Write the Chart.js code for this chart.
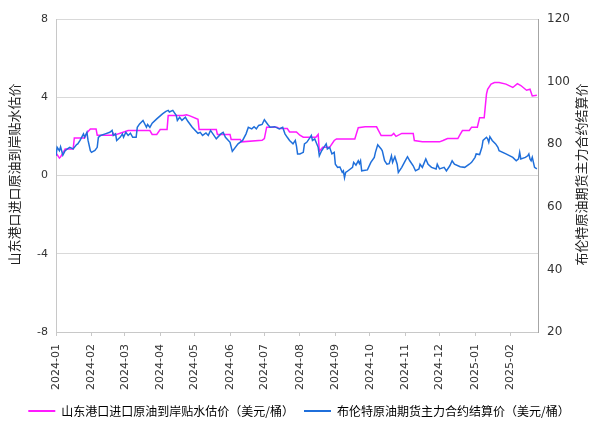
<!DOCTYPE html>
<html>
<head>
<meta charset="utf-8">
<script src="https://cdn.jsdelivr.net/npm/chart.js@4/dist/chart.umd.min.js"></script>
<style>
  html, body { margin: 0; padding: 0; background: #fff; }
  #wrap { width: 598px; height: 435px; }
</style>
</head>
<body>
<div id="wrap"><canvas id="chart"></canvas></div>
<script>
// 月份刻度
const monthLabels = ['2024-01', '2024-02', '2024-03', '2024-04', '2024-05', '2024-06', '2024-07',
    '2024-08', '2024-09', '2024-10', '2024-11', '2024-12', '2025-01', '2025-02'];

// 山东港口进口原油到岸贴水估价（美元/桶）
const premiumDates = ['2024-01-01', '2024-01-04', '2024-01-05', '2024-01-09', '2024-01-16', '2024-01-17',
    '2024-01-26', '2024-01-28', '2024-01-31', '2024-02-05', '2024-02-06', '2024-02-19', '2024-02-20',
    '2024-02-21', '2024-02-28', '2024-03-04', '2024-03-23', '2024-03-25', '2024-03-29', '2024-04-01',
    '2024-04-07', '2024-04-08', '2024-04-21', '2024-04-24', '2024-04-27', '2024-05-04', '2024-05-05',
    '2024-05-20', '2024-05-21', '2024-06-01', '2024-06-02', '2024-06-10', '2024-06-11', '2024-06-29',
    '2024-07-01', '2024-07-03', '2024-07-12', '2024-07-14', '2024-07-21', '2024-07-23', '2024-07-29',
    '2024-08-01', '2024-08-04', '2024-08-15', '2024-08-17', '2024-08-18', '2024-08-21', '2024-08-27',
    '2024-08-31', '2024-09-02', '2024-09-18', '2024-09-21', '2024-09-27', '2024-10-07', '2024-10-11',
    '2024-10-20', '2024-10-22', '2024-10-24', '2024-10-29', '2024-11-08', '2024-11-09', '2024-11-16',
    '2024-12-01', '2024-12-04', '2024-12-08', '2024-12-17', '2024-12-19', '2024-12-21', '2024-12-27',
    '2024-12-29', '2025-01-03', '2025-01-05', '2025-01-09', '2025-01-11', '2025-01-12', '2025-01-15',
    '2025-01-18', '2025-01-22', '2025-01-28', '2025-02-03', '2025-02-07', '2025-02-10', '2025-02-15',
    '2025-02-18', '2025-02-20', '2025-02-24'];
const premiumValues = [1.15, 0.89, 0.95, 1.35, 1.35, 1.92,
    1.92, 2.18, 2.38, 2.38, 2.06, 2.06, 2.15,
    2.06, 2.2, 2.3, 2.3, 2.1, 2.1, 2.35,
    2.35, 3.07, 3.07, 3.1, 3.05, 2.87, 2.35,
    2.35, 2.1, 2.1, 1.84, 1.84, 1.72, 1.8,
    1.89, 2.47, 2.47, 2.4, 2.4, 2.23, 2.23,
    2.06, 1.96, 1.96, 2.1, 1.24, 1.44, 1.44,
    1.79, 1.87, 1.87, 2.44, 2.49, 2.49, 2.04,
    2.04, 2.15, 2.0, 2.15, 2.15, 1.79, 1.72,
    1.72, 1.79, 1.89, 1.89, 2.1, 2.3, 2.3,
    2.47, 2.47, 2.95, 2.95, 4.16, 4.41, 4.67,
    4.75, 4.75, 4.67, 4.5, 4.7, 4.6, 4.36,
    4.41, 4.07, 4.1];

// 布伦特原油期货主力合约结算价（美元/桶）
const brentDates = ['2024-01-01', '2024-01-02', '2024-01-04', '2024-01-05', '2024-01-07', '2024-01-09',
    '2024-01-11', '2024-01-13', '2024-01-16', '2024-01-19', '2024-01-20', '2024-01-22', '2024-01-25',
    '2024-01-26', '2024-01-28', '2024-01-29', '2024-01-31', '2024-02-01', '2024-02-04', '2024-02-06',
    '2024-02-07', '2024-02-09', '2024-02-13', '2024-02-17', '2024-02-19', '2024-02-20', '2024-02-22',
    '2024-02-23', '2024-02-26', '2024-02-28', '2024-02-29', '2024-03-02', '2024-03-04', '2024-03-06',
    '2024-03-08', '2024-03-11', '2024-03-12', '2024-03-14', '2024-03-17', '2024-03-20', '2024-03-21',
    '2024-03-23', '2024-03-25', '2024-03-29', '2024-04-03', '2024-04-06', '2024-04-08', '2024-04-09',
    '2024-04-12', '2024-04-15', '2024-04-16', '2024-04-18', '2024-04-20', '2024-04-23', '2024-04-25',
    '2024-04-29', '2024-05-04', '2024-05-06', '2024-05-08', '2024-05-11', '2024-05-13', '2024-05-15',
    '2024-05-20', '2024-05-24', '2024-05-26', '2024-05-28', '2024-06-01', '2024-06-03', '2024-06-08',
    '2024-06-12', '2024-06-15', '2024-06-17', '2024-06-20', '2024-06-22', '2024-06-24', '2024-06-26',
    '2024-06-29', '2024-07-01', '2024-07-04', '2024-07-06', '2024-07-10', '2024-07-14', '2024-07-17',
    '2024-07-19', '2024-07-21', '2024-07-23', '2024-07-26', '2024-07-28', '2024-07-29', '2024-07-30',
    '2024-08-01', '2024-08-04', '2024-08-05', '2024-08-07', '2024-08-10', '2024-08-11', '2024-08-12',
    '2024-08-14', '2024-08-17', '2024-08-18', '2024-08-20', '2024-08-24', '2024-08-25', '2024-08-27',
    '2024-08-29', '2024-08-31', '2024-09-01', '2024-09-03', '2024-09-05', '2024-09-07', '2024-09-08',
    '2024-09-09', '2024-09-10', '2024-09-11', '2024-09-16', '2024-09-17', '2024-09-19', '2024-09-21',
    '2024-09-22', '2024-09-23', '2024-09-24', '2024-09-29', '2024-10-02', '2024-10-05', '2024-10-06',
    '2024-10-08', '2024-10-11', '2024-10-12', '2024-10-14', '2024-10-16', '2024-10-18', '2024-10-20',
    '2024-10-21', '2024-10-23', '2024-10-25', '2024-10-26', '2024-10-29', '2024-11-01', '2024-11-03',
    '2024-11-05', '2024-11-08', '2024-11-10', '2024-11-13', '2024-11-14', '2024-11-16', '2024-11-19',
    '2024-11-21', '2024-11-24', '2024-11-28', '2024-11-29', '2024-12-01', '2024-12-05', '2024-12-07',
    '2024-12-10', '2024-12-12', '2024-12-14', '2024-12-19', '2024-12-23', '2024-12-27', '2024-12-29',
    '2025-01-01', '2025-01-02', '2025-01-05', '2025-01-07', '2025-01-08', '2025-01-11', '2025-01-12',
    '2025-01-13', '2025-01-14', '2025-01-16', '2025-01-19', '2025-01-21', '2025-01-22', '2025-01-28',
    '2025-02-03', '2025-02-06', '2025-02-08', '2025-02-09', '2025-02-10', '2025-02-14', '2025-02-16',
    '2025-02-17', '2025-02-18', '2025-02-19', '2025-02-20', '2025-02-22', '2025-02-24'];
const brentValues = [76.3, 79.0, 77.9, 79.2, 76.5, 77.9,
    78.5, 79.0, 78.5, 79.9, 80.1, 81.2, 83.3,
    82.2, 83.8, 81.2, 77.9, 77.4, 78.0, 79.0,
    82.2, 82.8, 83.3, 83.8, 84.4, 82.8, 83.3,
    81.2, 82.2, 83.3, 82.2, 83.8, 82.8, 83.5,
    82.2, 82.2, 85.4, 86.5, 87.6, 85.4, 86.3,
    85.4, 86.7, 88.1, 89.7, 90.5, 90.8, 90.3,
    90.8, 89.2, 87.6, 88.6, 87.6, 88.6, 87.4,
    85.4, 83.5, 83.8, 82.8, 83.6, 82.8, 84.4,
    81.7, 83.3, 83.8, 82.2, 80.6, 77.7, 80.1,
    81.2, 83.3, 85.4, 84.9, 85.6, 84.9, 86.0,
    86.3, 87.8, 86.3, 85.4, 85.6, 84.9, 85.4,
    83.3, 82.2, 81.2, 80.1, 81.2, 79.5, 76.9,
    76.9, 77.4, 80.1, 80.6, 82.2, 82.8, 81.2,
    81.7, 79.0, 76.3, 77.9, 80.1, 78.5, 79.0,
    76.9, 77.4, 73.6, 72.6, 72.7, 71.0, 71.5,
    69.3, 71.0, 71.2, 72.6, 74.2, 73.3, 74.7,
    73.8, 74.7, 71.5, 71.8, 74.2, 75.8, 77.4,
    79.8, 78.5, 77.9, 74.7, 73.6, 73.8, 76.3,
    74.2, 76.0, 73.6, 71.0, 72.6, 74.7, 76.0,
    74.7, 73.1, 71.5, 72.1, 73.6, 72.6, 75.3,
    73.6, 72.6, 72.1, 73.6, 72.1, 72.6, 71.5,
    73.1, 74.7, 73.6, 72.8, 72.6, 73.6, 74.2,
    75.8, 76.9, 76.7, 79.0, 81.2, 82.2, 81.7,
    80.6, 82.4, 81.2, 80.1, 79.0, 77.9, 76.9,
    75.8, 74.7, 75.3, 77.4, 75.3, 75.8, 76.3,
    76.9, 75.3, 74.7, 75.8, 72.6, 72.1];

const premiumLabel = '山东港口进口原油到岸贴水估价（美元/桶）';
const brentLabel = '布伦特原油期货主力合约结算价（美元/桶）';
const leftTitle = '山东港口进口原油到岸贴水估价';
const rightTitle = '布伦特原油期货主力合约结算价';

const pinkColor = '#ff1aff';
const blueColor = '#1f6fdb';

// 日期转换为自2024-01-01起的天数
function dayOf(str) {
    const p = str.split('-').map(Number);
    return (Date.UTC(p[0], p[1] - 1, p[2]) - Date.UTC(2024, 0, 1)) / 86400000;
}

function toPoints(dates, values) {
    return dates.map((d, i) => ({ x: dayOf(d), y: values[i] }));
}

// 纵轴标题（两侧均自下而上）
const axisTitlePlugin = {
    id: 'axisTitles',
    afterDraw(chart) {
        const ctx = chart.ctx;
        const area = chart.chartArea;
        const midY = (area.top + area.bottom) / 2 - 1;
        ctx.save();
        ctx.fillStyle = '#222';
        ctx.font = '13px "Noto Sans CJK SC", sans-serif';
        ctx.textAlign = 'center';
        ctx.textBaseline = 'middle';
        [[14, leftTitle], [581, rightTitle]].forEach(([x, text]) => {
            ctx.save();
            ctx.translate(x, midY);
            ctx.rotate(-Math.PI / 2);
            ctx.fillText(text, 0, 0);
            ctx.restore();
        });
        ctx.restore();
    }
};

const ctx = document.getElementById('chart').getContext('2d');
new Chart(ctx, {
    type: 'line',
    data: {
        datasets: [{
            label: premiumLabel,
            data: toPoints(premiumDates, premiumValues),
            borderColor: pinkColor,
            backgroundColor: pinkColor,
            borderWidth: 1.5,
            pointRadius: 0,
            tension: 0,
            yAxisID: 'y',
            order: 1
        }, {
            label: brentLabel,
            data: toPoints(brentDates, brentValues),
            borderColor: blueColor,
            backgroundColor: blueColor,
            borderWidth: 1.5,
            pointRadius: 0,
            tension: 0,
            yAxisID: 'y1',
            order: 0
        }]
    },
    options: {
        responsive: true,
        maintainAspectRatio: false,
        animation: false,
        layout: {
            padding: { top: 19, left: 0, right: 0, bottom: 8 }
        },
        scales: {
            x: {
                type: 'linear',
                min: dayOf('2024-01-01'),
                max: dayOf('2025-02-25'),
                afterBuildTicks: scale => {
                    scale.ticks = monthLabels.map(m => ({ value: dayOf(m + '-01') }));
                },
                afterFit: scale => { scale.height = 63; },
                grid: {
                    drawOnChartArea: false,
                    drawTicks: true,
                    tickLength: 4,
                    color: '#c8c8c8'
                },
                border: { color: '#c8c8c8' },
                ticks: {
                    autoSkip: false,
                    minRotation: 90,
                    maxRotation: 90,
                    padding: 8,
                    color: '#333',
                    font: { family: 'DejaVu Sans', size: 11 },
                    callback: (value, index) => monthLabels[index]
                }
            },
            y: {
                position: 'left',
                min: -8,
                max: 8,
                afterFit: scale => { scale.width = 56; },
                ticks: {
                    stepSize: 4,
                    padding: 8,
                    color: '#333',
                    font: { family: 'DejaVu Sans', size: 11 }
                },
                grid: {
                    color: '#d9d9d9',
                    drawTicks: false
                },
                border: { color: '#c8c8c8' }
            },
            y1: {
                position: 'right',
                min: 20,
                max: 120,
                afterFit: scale => { scale.width = 60; },
                ticks: {
                    stepSize: 20,
                    padding: 9,
                    color: '#333',
                    font: { family: 'DejaVu Sans', size: 12 }
                },
                grid: {
                    drawOnChartArea: false,
                    drawTicks: false
                },
                border: { color: '#a6a6a6' }
            }
        },
        plugins: {
            legend: {
                position: 'bottom',
                labels: {
                    boxWidth: 27,
                    boxHeight: 2,
                    padding: 10,
                    color: '#222',
                    font: { family: '"Noto Sans CJK SC"', size: 12 },
                    generateLabels: chart => chart.data.datasets.map((ds, i) => ({
                        text: ds.label,
                        fillStyle: ds.borderColor,
                        strokeStyle: ds.borderColor,
                        lineWidth: 0,
                        hidden: false,
                        datasetIndex: i
                    }))
                }
            },
            tooltip: { enabled: false }
        }
    },
    plugins: [axisTitlePlugin]
});
</script>
</body>
</html>
